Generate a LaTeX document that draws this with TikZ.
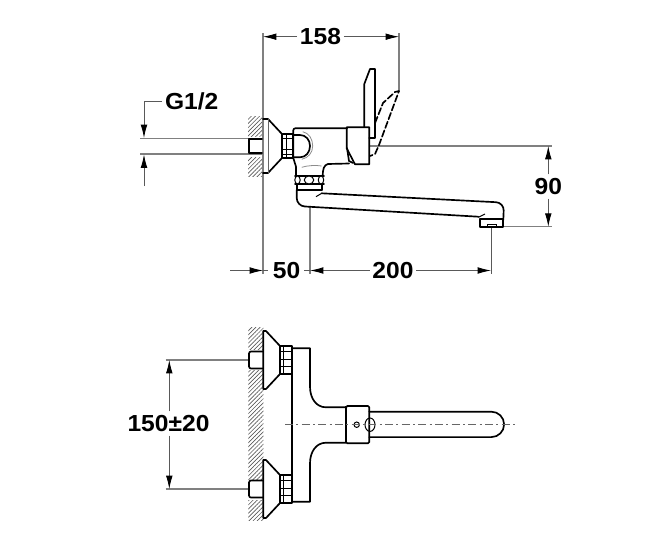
\documentclass[tikz,border=0pt]{standalone}
\usepackage{fontspec}
\setmainfont[FakeStretch=1.06]{Liberation Sans}
\usetikzlibrary{arrows.meta,patterns.meta}
\tikzset{
  outl/.style={line width=1.25pt,line join=round,line cap=round},
  thin outl/.style={line width=.75pt},
  faint/.style={line width=.6pt,black!45},
  ext/.style={line width=.85pt,black!50},
  dimline/.style={line width=.65pt,black!65,-{Latex[length=10pt,width=5pt,black]}},
  dimlabel/.style={font=\fontsize{17.4}{19}\selectfont\bfseries,inner xsep=2pt,inner ysep=2.8pt},
  wall/.style={pattern={Lines[angle=45,distance=2.2pt,line width=.5pt]},pattern color=black!65}
}
\begin{document}
\begin{tikzpicture}[x=.75pt,y=-.75pt]
  \useasboundingbox (0,0) rectangle (660,550);
  % side view: wall and extension lines
  \fill[wall] (248,116) rectangle (263,136);
  \fill[wall] (248,157) rectangle (263,176);
  \draw[ext] (263,33) -- (263,274);
  \draw[ext] (399,33) -- (399,92);
  \draw[ext] (140,138.5) -- (262,138.5);
  \draw[ext] (140,154) -- (262,154);
  \draw[ext] (370,146) -- (552,146);
  \draw[ext] (503,226.7) -- (552,226.7);
  \draw[ext] (310,207) -- (310,274);
  \draw[line width=.65pt,black!65] (491,226) -- (491,274);
  % side view: wall rose and nipple
  \draw[outl] (262,139) -- (249,139) -- (249,153) -- (262,153);
  \draw[line width=1.8pt] (249,139) -- (249,153);
  \draw[outl] (263,119) -- (268,119) -- (282,134) -- (282,158) -- (268,173) -- (263,173);
  \draw[thin outl,black!60] (268,119) -- (268,173);
  % side view: nut
  \draw[outl] (282.5,134) rectangle (293,158);
  \draw[thin outl] (283,138) -- (293,138) (283,149) -- (293,149) (283,154) -- (293,154) (286,134) -- (286,158);
  % side view: body
  \draw[outl] (293.3,158) -- (296,166.7) -- (296,176);
  \draw[outl,rounded corners=1.5pt] (293.3,158) -- (293.3,128.3) -- (347,128.3);
  \draw[outl] (293.3,135) -- (300,135) .. controls (306,135) and (310,140) .. (310,146) .. controls (310,152) and (306,157.3) .. (300,157.3) -- (293.3,157.3);
  \draw[faint] (302.7,131.7) .. controls (309,133) and (312.7,139) .. (312.7,146) .. controls (312.7,153) and (308,158) .. (301.7,159.3);
  \draw[faint] (301.7,167.3) .. controls (307,165.5) and (316,165) .. (321.7,166);
  \draw[outl] (349,163.5) -- (328,164) .. controls (324,165) and (322.7,169) .. (322.7,176);
  % side view: lever block
  \draw[outl] (346.7,127.3) -- (369.3,127.3) -- (369.3,164.3) -- (355,164.3) -- (346.7,148.3) -- cycle;
  \draw[outl] (347,148) -- (349,161) -- (353,163);
  % side view: lever, and the raised one dashed
  \draw[outl] (364.3,127) -- (364.3,84) -- (370,69) -- (375,69) -- (375,127);
  \draw[outl] (369.3,138) -- (375,138) -- (375,127);
  \draw[outl,dash pattern=on 5pt off 2pt] (375,123) -- (383,103) -- (395,92) -- (399,91) -- (379,145) -- (375,154) -- (370,156);
  % side view: ring
  \draw[outl] (295,176) -- (324,176) (295,184) -- (324,184);
  \foreach \xx/\rr in {297.5/2.7,309/4.7,321/2.7}
    \draw[thin outl,fill=white] (\xx,180) ellipse ({\rr} and 4);
  \draw[outl] (296.7,184) -- (296.7,190) (321.7,184) -- (321.7,190);
  \draw[outl] (296.7,190) -- (321.7,190);
  % side view: spout
  \draw[outl,rounded corners=6pt] (296.7,190) -- (296.7,206) -- (478.3,216.7);
  \draw[outl,rounded corners=6pt] (321.7,193.3) -- (504,202.6) -- (503.3,220);
  \draw[thin outl] (316,196.7) -- (321.7,193.3) (478.3,217.3) -- (485,214);
  \draw[outl] (480,219.3) rectangle (503.3,226.7);
  \draw[thin outl] (487.3,224) rectangle (496,226.7);
  % front view: wall
  \fill[wall] (248.3,327) rectangle (263.3,349);
  \fill[wall] (248.3,370) rectangle (263.3,479);
  \fill[wall] (248.3,500) rectangle (263.3,520);
  \draw[ext] (165.5,360) -- (249,360);
  \draw[ext] (165.5,489) -- (249,489);
  % front view: both mountings
  \foreach \yy in {360,489} {
    \draw[outl,rounded corners=1.5pt] (263,\yy-8.5) -- (249,\yy-8.5) -- (249,\yy+8.5) -- (263,\yy+8.5);
    \draw[outl,fill=white] (263.3,\yy-29) -- (266,\yy-29) -- (280,\yy-14) -- (280,\yy+14) -- (266,\yy+29) -- (263.3,\yy+29) -- cycle;
    \draw[outl] (280,\yy-14) rectangle (291.7,\yy+14);
    \draw[thin outl] (280,\yy-9) -- (291,\yy-9) (280,\yy-1) -- (291,\yy-1) (280,\yy+6) -- (291,\yy+6) (283,\yy-14) -- (283,\yy+14);
  }
  % front view: body
  \draw[outl] (292.3,348.3) -- (292.3,501.7);
  \draw[outl] (292.3,348.3) -- (310,348.3) -- (310,386.7) .. controls (310,398) and (316,407.3) .. (326,407.3) -- (346,407.3);
  \draw[outl] (292.3,501.7) -- (310,501.7) -- (310,463.3) .. controls (310,452) and (316,442.7) .. (326,442.7) -- (346,442.7);
  % front view: spout from above, drawn before the collar
  \draw[outl] (369.3,411.7) -- (491.4,411.7) arc[start angle=-90,end angle=90,radius=12.7] -- (369.3,437.1);
  \draw[outl,rounded corners=1pt] (346,406) rectangle (369.3,443.3);
  \draw[line width=2pt] (346,406) -- (346,443.3);
  \draw[thin outl] (356.7,424.7) circle (2.7);
  \draw[thin outl] (370,424.7) ellipse (5 and 6.7);
  \draw[line width=.7pt,black!60,dash pattern=on 6pt off 2.5pt on 1.5pt off 2.5pt] (285,424.5) -- (518,424.5);
  % dimensions
  \node[dimlabel] (lab158) at (320.5,36.7) {158};
  \coordinate (end158a) at (263,36.7);
  \coordinate (end158b) at (399,36.7);
  \draw[dimline] (lab158) -- (end158a);
  \draw[dimline] (lab158) -- (end158b);
  \node[dimlabel] (labG) at (191.7,101.5) {G1/2};
  \coordinate (cornerG) at (144,101.5);
  \coordinate (endGa) at (144,138);
  \coordinate (startGb) at (144,186);
  \coordinate (endGb) at (144,154.5);
  \draw[dimline] (labG) -- (cornerG) -- (endGa);
  \draw[dimline] (startGb) -- (endGb);
  \node[dimlabel] (lab90) at (548.3,186.5) {90};
  \coordinate (end90a) at (548.3,146);
  \coordinate (end90b) at (548.3,226.7);
  \draw[dimline] (lab90) -- (end90a);
  \draw[dimline] (lab90) -- (end90b);
  \node[dimlabel] (lab50) at (286.5,270.5) {50};
  \coordinate (start50) at (230,270.5);
  \coordinate (end50) at (263,270.5);
  \coordinate (tick50) at (304,270.5);
  \coordinate (tick50b) at (268,270.5);
  \draw[dimline] (start50) -- (end50);
  \draw[line width=.65pt,black!65] (end50) -- (tick50b) (tick50) -- (310,270.5);
  \node[dimlabel] (lab200) at (393,270.5) {200};
  \coordinate (end200a) at (310,270.5);
  \coordinate (end200b) at (491,270.5);
  \draw[dimline] (lab200) -- (end200a);
  \draw[dimline] (lab200) -- (end200b);
  \node[dimlabel] (lab150) at (168.5,423.5) {150±20};
  \coordinate (end150a) at (169.3,360);
  \coordinate (end150b) at (169.3,489);
  \draw[dimline] (lab150.north -| end150a) -- (end150a);
  \draw[dimline] (lab150.south -| end150b) -- (end150b);
\end{tikzpicture}
\end{document}
